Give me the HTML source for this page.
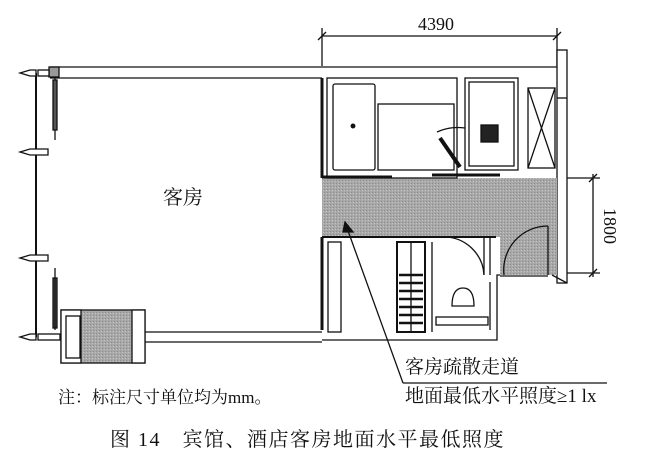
<!DOCTYPE html>
<html><head><meta charset="utf-8"><style>
html,body{margin:0;padding:0;background:#fff;}
svg{display:block;}
text{font-family:"Liberation Serif","Noto Serif CJK SC",serif;fill:#111;}
</style></head><body>
<svg width="653" height="465" viewBox="0 0 653 465" xmlns="http://www.w3.org/2000/svg">
<defs>
<pattern id="g" width="3" height="3" patternUnits="userSpaceOnUse">
<rect width="3" height="3" fill="#a8a8a8"/><rect width="1" height="1" fill="#8c8c8c"/><rect x="2" y="1" width="1" height="1" fill="#c4c4c4"/>
</pattern>
</defs>
<g stroke="#111" fill="none" stroke-width="1.3">
<line x1="322" y1="36" x2="557" y2="36"/>
<line x1="322" y1="28" x2="322" y2="66"/>
<line x1="557" y1="28" x2="557" y2="66"/>
<line x1="318" y1="40" x2="326" y2="32"/>
<line x1="553" y1="40" x2="561" y2="32"/>
<line x1="50" y1="67" x2="557" y2="67"/>
<line x1="50" y1="78" x2="322" y2="78"/>
<rect x="49" y="67" width="10" height="10" fill="#999"/>
<line x1="36" y1="73" x2="36" y2="337" stroke-width="2"/>
<line x1="55" y1="78" x2="55" y2="140"/>
<rect x="53" y="80" width="4" height="50" fill="#555"/>
<rect x="53" y="278" width="4" height="50" fill="#555"/>
<line x1="55" y1="268" x2="55" y2="330"/>
<g fill="#fff">
<path d="M20 73 L30 70 L36 70 L36 76 L30 76 Z"/>
<path d="M20 152 L30 149 L48 149 L48 155 L30 155 Z"/>
<path d="M20 258 L30 255 L48 255 L48 261 L30 261 Z"/>
<path d="M20 337 L30 334 L36 334 L36 340 L30 340 Z"/>
<rect x="38" y="70" width="11" height="6"/>
<rect x="38" y="334" width="22" height="6"/>
</g>
<line x1="145" y1="332" x2="322" y2="332"/>
<line x1="145" y1="342" x2="322" y2="342"/>
<rect x="61" y="310" width="84" height="53" fill="url(#g)"/>
<rect x="61" y="310" width="20" height="53" fill="#fff"/>
<rect x="66" y="316" width="14" height="42" fill="#fff"/>
<rect x="132" y="310" width="13" height="53" fill="#fff"/>
<rect x="557" y="50" width="10" height="233" fill="#fff"/>
<line x1="557" y1="98" x2="567" y2="98"/>
<path d="M322 178 H557 V275 H500 V237 H322 Z" fill="url(#g)" stroke="none"/>
<line x1="322" y1="78" x2="322" y2="178" stroke-width="3"/>
<rect x="327" y="78" width="130" height="100"/>
<rect x="333" y="84" width="42" height="86" rx="2"/>
<circle cx="353" cy="126" r="1.8" fill="#111"/>
<rect x="378" y="104" width="76" height="66"/>
<rect x="465" y="78" width="53" height="92"/>
<rect x="469" y="82" width="45" height="84"/>
<rect x="481" y="125" width="17" height="17" fill="#222"/>
<path d="M440 138 L460 167" stroke-width="4"/>
<path d="M437 132 Q450 126 465 128"/>
<rect x="528" y="88" width="27" height="80"/>
<line x1="528" y1="88" x2="555" y2="168"/>
<line x1="555" y1="88" x2="528" y2="168"/>
<line x1="322" y1="177" x2="392" y2="177" stroke-width="3"/>
<line x1="432" y1="175" x2="500" y2="175" stroke-width="3"/>
<line x1="322" y1="237" x2="322" y2="330" stroke-width="3"/>
<line x1="322" y1="237" x2="496" y2="237" stroke-width="2"/>
<rect x="328" y="242" width="13" height="90"/>
<rect x="397" y="242" width="28" height="90" stroke-width="2"/>
<g stroke-width="2.5">
<line x1="399" y1="275" x2="423" y2="275"/><line x1="399" y1="283" x2="423" y2="283"/>
<line x1="399" y1="291" x2="423" y2="291"/><line x1="399" y1="299" x2="423" y2="299"/>
<line x1="399" y1="307" x2="423" y2="307"/><line x1="399" y1="315" x2="423" y2="315"/>
<line x1="399" y1="323" x2="423" y2="323"/>
</g>
<line x1="411" y1="242" x2="411" y2="332"/>
<line x1="432" y1="242" x2="432" y2="332"/>
<line x1="484" y1="237" x2="484" y2="275"/>
<line x1="490" y1="237" x2="490" y2="275"/>
<path d="M484 275 A40 40 0 0 0 444 237"/>
<path d="M452 306 Q452 288 463 288 Q474 288 474 306 Z"/>
<rect x="436" y="317" width="52" height="8"/>
<path d="M322 340 H497 V275 H500"/>
<path d="M490 282 V330"/>
<line x1="548" y1="226" x2="548" y2="275"/>
<path d="M504 275 A44 44 0 0 1 548 226"/>
<line x1="500" y1="276" x2="548" y2="276"/>
<line x1="552" y1="275" x2="567" y2="283"/>
<line x1="567" y1="178" x2="600" y2="178"/>
<line x1="567" y1="273" x2="600" y2="273"/>
<line x1="593" y1="174" x2="593" y2="277"/>
<line x1="589" y1="182" x2="597" y2="174"/>
<line x1="589" y1="277" x2="597" y2="269"/>
<line x1="347" y1="228" x2="403" y2="383"/>
<line x1="403" y1="383" x2="607" y2="383"/>
<path d="M345 222 L353 232 L343 232 Z" fill="#111"/>
</g>
<text x="163" y="204" font-size="20">客房</text>
<text x="418" y="30" font-size="18">4390</text>
<text transform="translate(604,226) rotate(90)" font-size="18" text-anchor="middle">1800</text>
<text x="405" y="373" font-size="19">客房疏散走道</text>
<text x="405" y="402" font-size="19">地面最低水平照度≥1 lx</text>
<text x="58" y="403" font-size="17">注：标注尺寸单位均为mm。</text>
<text x="110" y="446" font-size="20" letter-spacing="1.5">图 14　宾馆、酒店客房地面水平最低照度</text>
</svg>
</body></html>
